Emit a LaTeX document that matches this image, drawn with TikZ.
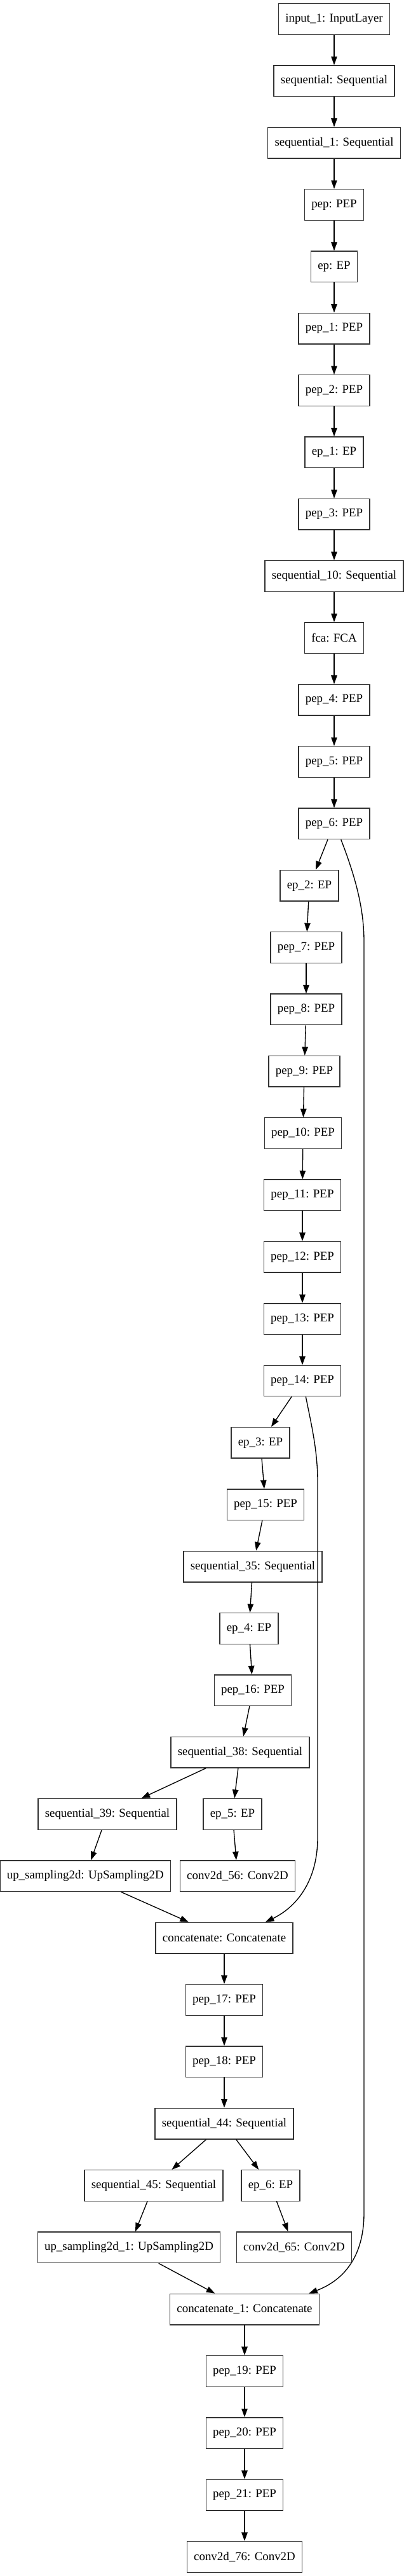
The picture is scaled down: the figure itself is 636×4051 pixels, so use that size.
\documentclass[tikz,border=0pt]{standalone}
\usepackage{fontspec}
\setmainfont{Liberation Serif}
\usetikzlibrary{arrows.meta}
\begin{document}
\begin{tikzpicture}[x=0.7402pt,y=-0.7402pt,
  layer/.style={draw=black!80,line width=1pt,minimum height=36pt,inner xsep=8pt,inner ysep=0pt,font=\fontsize{14pt}{16pt}\selectfont,fill=white},
  edge/.style={line width=1pt,-{Triangle[length=10pt,width=7pt]}}]
\fill[white] (0,0) rectangle (636,4051);
\useasboundingbox (0,0) rectangle (636,4051);
\def\R#1{{30+97.34*#1}}
\node[layer] (input1) at (526,\R{0}) {input\_1: InputLayer};
\node[layer] (seq) at (526,\R{1}) {sequential: Sequential};
\node[layer] (seq1) at (526,\R{2}) {sequential\_1: Sequential};
\node[layer] (pep) at (526,\R{3}) {pep: PEP};
\node[layer] (ep) at (526,\R{4}) {ep: EP};
\node[layer] (pep1) at (526,\R{5}) {pep\_1: PEP};
\node[layer] (pep2) at (526,\R{6}) {pep\_2: PEP};
\node[layer] (ep1) at (526,\R{7}) {ep\_1: EP};
\node[layer] (pep3) at (526,\R{8}) {pep\_3: PEP};
\node[layer] (seq10) at (526,\R{9}) {sequential\_10: Sequential};
\node[layer] (fca) at (526,\R{10}) {fca: FCA};
\node[layer] (pep4) at (526,\R{11}) {pep\_4: PEP};
\node[layer] (pep5) at (526,\R{12}) {pep\_5: PEP};
\node[layer] (pep6) at (526,\R{13}) {pep\_6: PEP};
\node[layer] (ep2) at (487,\R{14}) {ep\_2: EP};
\node[layer] (pep7) at (482,\R{15}) {pep\_7: PEP};
\node[layer] (pep8) at (482,\R{16}) {pep\_8: PEP};
\node[layer] (pep9) at (479,\R{17}) {pep\_9: PEP};
\node[layer] (pep10) at (477,\R{18}) {pep\_10: PEP};
\node[layer] (pep11) at (476,\R{19}) {pep\_11: PEP};
\node[layer] (pep12) at (476,\R{20}) {pep\_12: PEP};
\node[layer] (pep13) at (476,\R{21}) {pep\_13: PEP};
\node[layer] (pep14) at (476,\R{22}) {pep\_14: PEP};
\node[layer] (ep3) at (410,\R{23}) {ep\_3: EP};
\node[layer] (pep15) at (418,\R{24}) {pep\_15: PEP};
\node[layer] (seq35) at (398,\R{25}) {sequential\_35: Sequential};
\node[layer] (ep4) at (392,\R{26}) {ep\_4: EP};
\node[layer] (pep16) at (398,\R{27}) {pep\_16: PEP};
\node[layer] (seq38) at (378,\R{28}) {sequential\_38: Sequential};
\node[layer] (seq39) at (169,\R{29}) {sequential\_39: Sequential};
\node[layer] (ep5) at (366,\R{29}) {ep\_5: EP};
\node[layer] (up) at (134.3,\R{30}) {up\_sampling2d: UpSampling2D};
\node[layer] (conv56) at (374,\R{30}) {conv2d\_56: Conv2D};
\node[layer] (cat) at (353,\R{31}) {concatenate: Concatenate};
\node[layer] (pep17) at (353,\R{32}) {pep\_17: PEP};
\node[layer] (pep18) at (353,\R{33}) {pep\_18: PEP};
\node[layer] (seq44) at (353,\R{34}) {sequential\_44: Sequential};
\node[layer] (seq45) at (242,\R{35}) {sequential\_45: Sequential};
\node[layer] (ep6) at (426,\R{35}) {ep\_6: EP};
\node[layer] (up1) at (203,\R{36}) {up\_sampling2d\_1: UpSampling2D};
\node[layer] (conv65) at (463,\R{36}) {conv2d\_65: Conv2D};
\node[layer] (cat1) at (385,\R{37}) {concatenate\_1: Concatenate};
\node[layer] (pep19) at (385,\R{38}) {pep\_19: PEP};
\node[layer] (pep20) at (385,\R{39}) {pep\_20: PEP};
\node[layer] (pep21) at (385,\R{40}) {pep\_21: PEP};
\node[layer] (conv76) at (385,\R{41}) {conv2d\_76: Conv2D};
% chain edges
\foreach \a/\b in {input1/seq,seq/seq1,seq1/pep,pep/ep,ep/pep1,pep1/pep2,pep2/ep1,ep1/pep3,pep3/seq10,seq10/fca,fca/pep4,pep4/pep5,pep5/pep6,
  pep6/ep2,ep2/pep7,pep7/pep8,pep8/pep9,pep9/pep10,pep10/pep11,pep11/pep12,pep12/pep13,pep13/pep14,pep14/ep3,
  ep3/pep15,pep15/seq35,seq35/ep4,ep4/pep16,pep16/seq38,seq38/seq39,seq38/ep5,seq39/up,ep5/conv56,
  up/cat,cat/pep17,pep17/pep18,pep18/seq44,seq44/seq45,seq44/ep6,seq45/up1,ep6/conv65,up1/cat1,
  cat1/pep19,pep19/pep20,pep20/pep21,pep21/conv76}
  \draw[edge] (\a) -- (\b);
% skip connections
\coordinate (s1a) at (573,1480);
\coordinate (s1b) at (573,3480);
\draw[edge] ([xshift=8pt]pep6.south) .. controls (560,1380) and (573,1430) .. (s1a) -- (s1b) .. controls (573,3560) and (530,3590) .. ([xshift=75pt]cat1.north);
\coordinate (s2a) at (500,2330);
\coordinate (s2b) at (500,2890);
\draw[edge] ([xshift=4pt]pep14.south) .. controls (490,2240) and (500,2280) .. (s2a) -- (s2b) .. controls (500,2960) and (465,3000) .. ([xshift=48pt]cat.north);
\end{tikzpicture}
\end{document}
